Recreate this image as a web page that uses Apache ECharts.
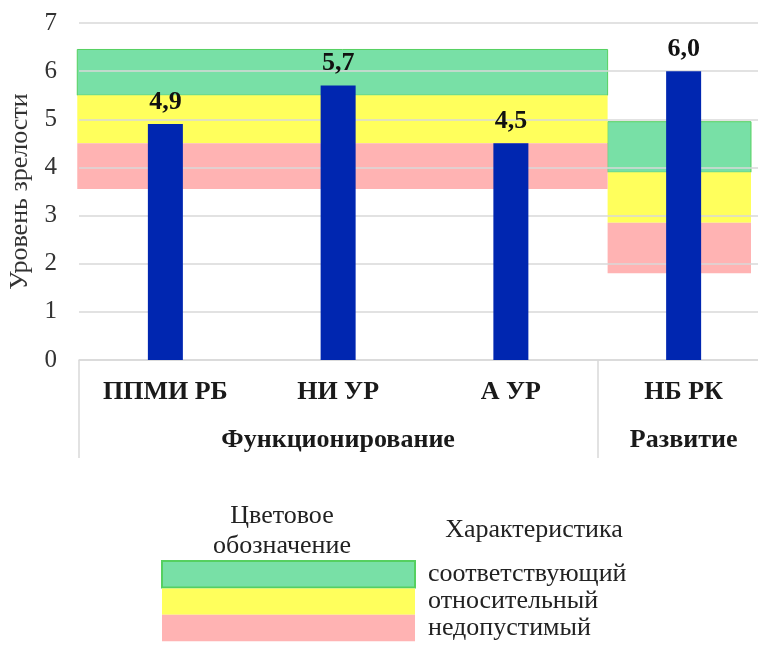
<!DOCTYPE html>
<html>
<head>
<meta charset="utf-8">
<script src="https://cdn.jsdelivr.net/npm/echarts@6/dist/echarts.min.js"></script>
<style>
  html, body { margin: 0; padding: 0; background: #fff; }
  #chart { width: 758px; height: 648px; }
</style>
</head>
<body>
<div id="chart"></div>
<script>
// categories and values
const categories = ['ППМИ РБ', 'НИ УР', 'А УР', 'НБ РК'];
const groupLabels = ['', 'Функционирование', '', 'Развитие'];
const maturity = [4.9, 5.7, 4.5, 6.0];
const yTicks = [0, 1, 2, 3, 4, 5, 6, 7];

// norm zones: span over categories (index units) + lower/upper level
const bandSpans = [[-0.51, 2.56], [2.56, 3.39]];
const greenBand = [[5.5, 6.45], [3.9, 4.95]];
const yellowBand = [[4.5, 5.5], [2.85, 3.9]];
const pinkBand = [[3.55, 4.5], [1.8, 2.85]];
const zoneNames = ['соответствующий', 'относительный', 'недопустимый'];

const serif = '"Liberation Serif", "DejaVu Serif", serif';

function bandData(levels) {
  return levels.map((lv, i) => [bandSpans[i][0], bandSpans[i][1], lv[0], lv[1]]);
}

function renderBand(params, api) {
  let p1 = api.coord([api.value(0), api.value(3)]);
  let p2 = api.coord([api.value(1), api.value(2)]);
  return {
    type: 'rect',
    shape: { x: p1[0], y: p1[1], width: p2[0] - p1[0], height: p2[1] - p1[1] },
    style: api.style()
  };
}

function bandSeries(name, levels, color, border) {
  return {
    name: name,
    type: 'custom',
    xAxisIndex: 2,
    z: -1,
    silent: true,
    itemStyle: { color: color, borderColor: border, borderWidth: border ? 1 : 0 },
    renderItem: renderBand,
    encode: { x: [0, 1], y: [2, 3] },
    data: bandData(levels)
  };
}

let myChart = echarts.init(document.getElementById('chart'));

let option = {
  backgroundColor: '#fff',
  animation: false,
  grid: { left: 79, width: 691, top: 23, bottom: 288, outerBoundsMode: 'none' },
  legend: {
    data: zoneNames,
    orient: 'vertical',
    left: 161,
    top: 560,
    padding: 0,
    itemWidth: 253,
    itemHeight: 26.4,
    itemGap: 0,
    icon: 'rect',
    selectedMode: false,
    textStyle: { fontFamily: serif, fontSize: 26, lineHeight: 26, color: '#222', padding: [0, 0, 0, 8] }
  },
  graphic: [
    {
      type: 'text', x: 282, y: 501,
      style: { text: 'Цветовое\nобозначение', font: '26px ' + serif, fill: '#222', align: 'center', verticalAlign: 'top', lineHeight: 30 }
    },
    {
      type: 'text', x: 534, y: 517,
      style: { text: 'Характеристика', font: '26px ' + serif, fill: '#222', align: 'center', verticalAlign: 'top' }
    }
  ],
  xAxis: [
    {
      type: 'category',
      data: categories,
      axisLine: { lineStyle: { color: '#d9d9d9', width: 1.5 } },
      axisTick: {
        show: true,
        length: 98,
        interval: function (index) { return index === 0 || index === 3; },
        lineStyle: { color: '#d9d9d9', width: 1.5 }
      },
      axisLabel: { interval: 0, margin: 19, fontFamily: serif, fontSize: 26, fontWeight: 'bold', color: '#1a1a1a' }
    },
    {
      type: 'category',
      data: groupLabels,
      position: 'bottom',
      axisLine: { show: false },
      axisTick: { show: false },
      axisLabel: { interval: 0, margin: 67, fontFamily: serif, fontSize: 26, fontWeight: 'bold', color: '#1a1a1a' }
    },
    {
      type: 'value',
      min: -0.5,
      max: 3.5,
      show: false
    }
  ],
  yAxis: {
    type: 'value',
    min: yTicks[0],
    max: yTicks[yTicks.length - 1],
    interval: 1,
    name: 'Уровень зрелости',
    nameLocation: 'middle',
    nameRotate: 90,
    nameGap: 43,
    nameTextStyle: { fontFamily: serif, fontSize: 26, color: '#333' },
    axisLine: { show: false },
    axisTick: { show: false },
    axisLabel: { margin: 22, fontFamily: serif, fontSize: 25, color: '#333' },
    splitLine: { lineStyle: { color: '#d9d9d9', width: 1.5 } }
  },
  series: [
    bandSeries(zoneNames[0], greenBand, '#78e0a6', '#55d060'),
    bandSeries(zoneNames[1], yellowBand, '#ffff5c'),
    bandSeries(zoneNames[2], pinkBand, '#ffb3b3'),
    {
      name: 'Уровень',
      type: 'bar',
      xAxisIndex: 0,
      barWidth: 35,
      z: 3,
      itemStyle: { color: '#0026b0' },
      label: {
        show: true,
        position: 'top',
        distance: 9,
        fontFamily: serif,
        fontSize: 26,
        fontWeight: 'bold',
        color: '#111',
        formatter: function (p) { return p.value.toFixed(1).replace('.', ','); }
      },
      data: maturity
    }
  ]
};

myChart.setOption(option);
</script>
</body>
</html>
